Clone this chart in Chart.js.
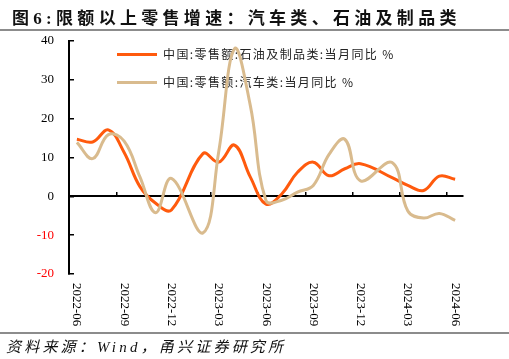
<!DOCTYPE html>
<html><head><meta charset="utf-8">
<script src="https://cdn.jsdelivr.net/npm/chart.js@4.4.1/dist/chart.umd.min.js"></script>
<style>
html,body{margin:0;padding:0;background:#fff;}
#wrap{position:relative;width:509px;height:359px;overflow:hidden;background:#fff;}
#c{position:absolute;left:0;top:0;}
#title{position:absolute;left:12px;top:4px;font:bold 17px "Liberation Serif","Noto Sans CJK SC";letter-spacing:4.3px;color:#111;white-space:nowrap;}
.rule{position:absolute;left:0;width:509px;height:2px;background:#8c8c8c;}
#src{position:absolute;left:6px;top:335px;font:italic 15px "Liberation Serif","Noto Sans CJK SC";letter-spacing:3.2px;color:#111;white-space:nowrap;}
</style></head>
<body><div id="wrap">
<canvas id="c" width="509" height="359"></canvas>
<div id="title">图6:限额以上零售增速：汽车类、石油及制品类</div>
<div class="rule" style="top:29px"></div>
<div class="rule" style="top:332px"></div>
<div id="src">资料来源：Wind，甬兴证券研究所</div>
</div>
<script>
const categories = ['2022-06','2022-07','2022-08','2022-09','2022-10','2022-11','2022-12',
  '2023-01','2023-02','2023-03','2023-04','2023-05','2023-06','2023-07','2023-08','2023-09',
  '2023-10','2023-11','2023-12','2024-01','2024-02','2024-03','2024-04','2024-05','2024-06'];
const petroleum = [14.7, 14.0, 17.1, 11.3, 2.5, -1.8, -3.5, null, 11.0, 8.8, 13.2, 5.0,
  -2.0, 0.6, 6.2, 8.8, 5.3, 7.1, 8.4, null, 4.8, 2.8, 1.5, 5.2, 4.4];
const autos = [13.9, 9.7, 15.9, 14.2, 5.0, -4.2, 4.6, null, -9.4, 11.5, 38.0, 23.5,
  -1.1, -1.0, 1.1, 2.8, 10.8, 14.7, 4.0, null, 8.7, -3.8, -5.6, -4.4, -6.2];
const seriesNames = ['中国:零售额:石油及制品类:当月同比 %', '中国:零售额:汽车类:当月同比 %'];
const seriesColors = ['#ff5a0d', '#d9bb8e'];
const yMin = -20, yMax = 40, yStep = 10;
const labelEvery = 3;

const xLabelsPlugin = {
  id: 'xLabels',
  afterDraw(chart) {
    const sx = chart.scales.x;
    const ctx = chart.ctx;
    ctx.save();
    ctx.font = '13px "Liberation Serif"';
    ctx.fillStyle = '#000';
    ctx.textAlign = 'left';
    ctx.textBaseline = 'middle';
    categories.forEach((lab, i) => {
      if (i % labelEvery !== 0) return;
      const x = sx.getPixelForTick(i);
      ctx.save();
      ctx.translate(x, chart.chartArea.bottom + 9);
      ctx.rotate(Math.PI / 2);
      ctx.fillText(lab, 0, 0);
      ctx.restore();
    });
    ctx.restore();
  }
};
const legendPosPlugin = {
  id: 'legendPos',
  afterLayout(chart) {
    const lg = chart.legend;
    if (!lg) return;
    lg.left = 101; lg.top = 32.5;
    if (!lg._spacedDraw) {
      lg._spacedDraw = true;
      const orig = lg.draw;
      lg.draw = function () {
        const c = this.ctx;
        c.save();
        c.letterSpacing = '1.4px';
        orig.apply(this, arguments);
        c.restore();
      };
    }
  }
};

new Chart(document.getElementById('c'), {
  type: 'line',
  data: {
    labels: categories,
    datasets: [
      { label: seriesNames[0], data: petroleum, borderColor: seriesColors[0], backgroundColor: seriesColors[0],
        borderWidth: 3, pointRadius: 0, tension: 0.4, spanGaps: true, fill: false, order: 1 },
      { label: seriesNames[1], data: autos, borderColor: seriesColors[1], backgroundColor: seriesColors[1],
        borderWidth: 3, pointRadius: 0, tension: 0.4, spanGaps: true, fill: false, order: 0 }
    ]
  },
  options: {
    responsive: false,
    animation: false,
    devicePixelRatio: 1,
    layout: { padding: { left: 0, top: 41, right: 46, bottom: 85 } },
    plugins: {
      tooltip: { enabled: false },
      legend: {
        position: 'chartArea',
        align: 'start',
        labels: {
          boxWidth: 40, boxHeight: 3, padding: 16, color: '#222',
          font: { family: '"Noto Sans CJK SC"', size: 12 },
          sort: (a, b) => a.datasetIndex - b.datasetIndex,
          generateLabels(chart) {
            const items = Chart.defaults.plugins.legend.labels.generateLabels(chart);
            items.forEach(it => { it.lineWidth = 0; it.fillStyle = it.strokeStyle; });
            return items;
          }
        }
      }
    },
    scales: {
      x: {
        type: 'category',
        position: { y: 0 },
        offset: true,
        ticks: { display: false },
        grid: { offset: true, drawOnChartArea: false, tickLength: -5, lineWidth: 1.5,
          color: c => (c.index % labelEvery === 0 ? '#000' : 'rgba(0,0,0,0)') },
        border: { color: '#000', width: 2 }
      },
      y: {
        min: yMin, max: yMax,
        ticks: { stepSize: yStep, padding: 20,
          color: c => (c.tick.value < 0 ? '#ff0000' : '#000'),
          font: { family: '"Liberation Serif"', size: 13 } },
        grid: { drawOnChartArea: false, tickLength: -5, color: '#000', lineWidth: 1.5 },
        border: { color: '#000', width: 2 },
        afterFit(s) { s.width = 69; }
      }
    }
  },
  plugins: [xLabelsPlugin, legendPosPlugin]
});
</script>
</body></html>
